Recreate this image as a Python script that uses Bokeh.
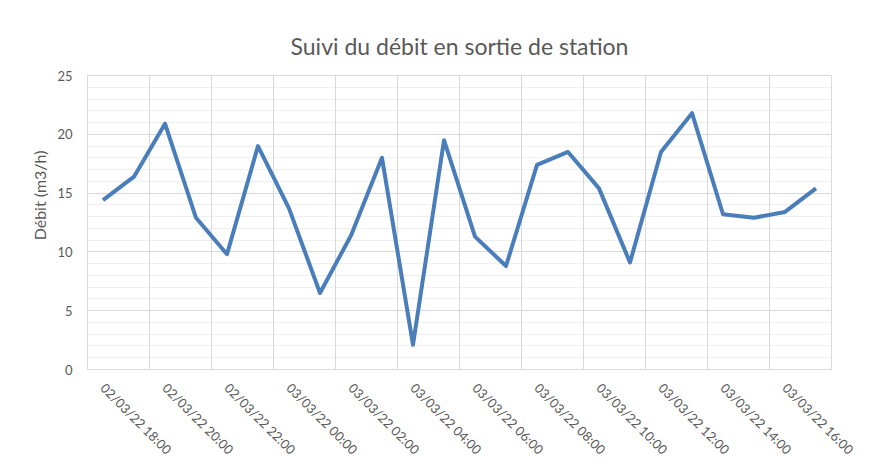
import math
from bokeh.plotting import figure
from bokeh.models import FixedTicker, Grid, Range1d, Title
from bokeh.embed import file_html
from bokeh.resources import INLINE

# Hourly timestamps (one point per hour)
timestamps = [
    "02/03/22 18:00", "02/03/22 19:00", "02/03/22 20:00", "02/03/22 21:00",
    "02/03/22 22:00", "02/03/22 23:00", "03/03/22 00:00", "03/03/22 01:00",
    "03/03/22 02:00", "03/03/22 03:00", "03/03/22 04:00", "03/03/22 05:00",
    "03/03/22 06:00", "03/03/22 07:00", "03/03/22 08:00", "03/03/22 09:00",
    "03/03/22 10:00", "03/03/22 11:00", "03/03/22 12:00", "03/03/22 13:00",
    "03/03/22 14:00", "03/03/22 15:00", "03/03/22 16:00", "03/03/22 17:00",
]
debit = [14.4, 16.4, 20.9, 12.9, 9.8, 19.0, 13.7, 6.5, 11.4, 18.0, 2.1, 19.5,
         11.3, 8.8, 17.4, 18.5, 15.4, 9.1, 18.5, 21.8, 13.2, 12.9, 13.4, 15.4]
y_ticks = [0, 5, 10, 15, 20, 25]
y_minor = list(range(0, 26))

TEXT = "#595959"
FONT = "Lato"

x = list(range(len(timestamps)))
label_idx = x[::2]
labels = {i: timestamps[i] for i in label_idx}
boundaries = [i - 0.5 for i in label_idx] + [len(timestamps) - 0.5]

p = figure(width=890, height=470, output_backend="svg", toolbar_location=None,
           x_range=Range1d(-0.5, len(timestamps) - 0.5), y_range=Range1d(0, 25),
           min_border_left=87, min_border_right=59, min_border_top=75,
           min_border_bottom=101)

p.title.text = "Suivi du débit en sortie de station"
p.title.align = "center"
p.title.text_font = FONT
p.title.text_font_size = "23px"
p.title.text_font_style = "normal"
p.title.text_color = TEXT
p.title.standoff = 32

p.outline_line_color = "#d9d9d9"
p.background_fill_color = "white"
p.border_fill_color = "white"

# x axis
p.xgrid.visible = False
p.xaxis.ticker = FixedTicker(ticks=label_idx)
p.xaxis.major_label_overrides = labels
p.xaxis.major_label_orientation = -math.pi / 4
p.xaxis.axis_line_color = None
p.xaxis.major_tick_line_color = None
p.xaxis.minor_tick_line_color = None
p.xaxis.major_label_text_font = FONT
p.xaxis.major_label_text_font_size = "13px"
p.xaxis.major_label_text_color = TEXT
p.xaxis.major_label_standoff = 10

vgrid = Grid(dimension=0, ticker=FixedTicker(ticks=boundaries),
             grid_line_color="#d9d9d9", grid_line_width=1)
p.add_layout(vgrid)

# y axis
p.yaxis.ticker = FixedTicker(ticks=y_ticks, minor_ticks=y_minor)
p.yaxis.axis_line_color = None
p.yaxis.major_tick_line_color = None
p.yaxis.minor_tick_line_color = None
p.yaxis.major_label_text_font = FONT
p.yaxis.major_label_text_font_size = "13px"
p.yaxis.major_label_text_color = TEXT
p.yaxis.major_label_standoff = 9
p.ygrid.grid_line_color = "#d9d9d9"
p.ygrid.minor_grid_line_color = "#efefef"

# y axis title, placed like the reference (nearer the top of the frame)
ytitle = Title(text="Débit (m3/h)", align="right", offset=75,
               text_font=FONT, text_font_size="16px", text_font_style="normal",
               text_color=TEXT, standoff=12)
p.add_layout(ytitle, "left")

p.line(x, debit, line_color="#4a7ebb", line_width=4, line_join="round")

open("out.html", "w").write(file_html(p, INLINE))
